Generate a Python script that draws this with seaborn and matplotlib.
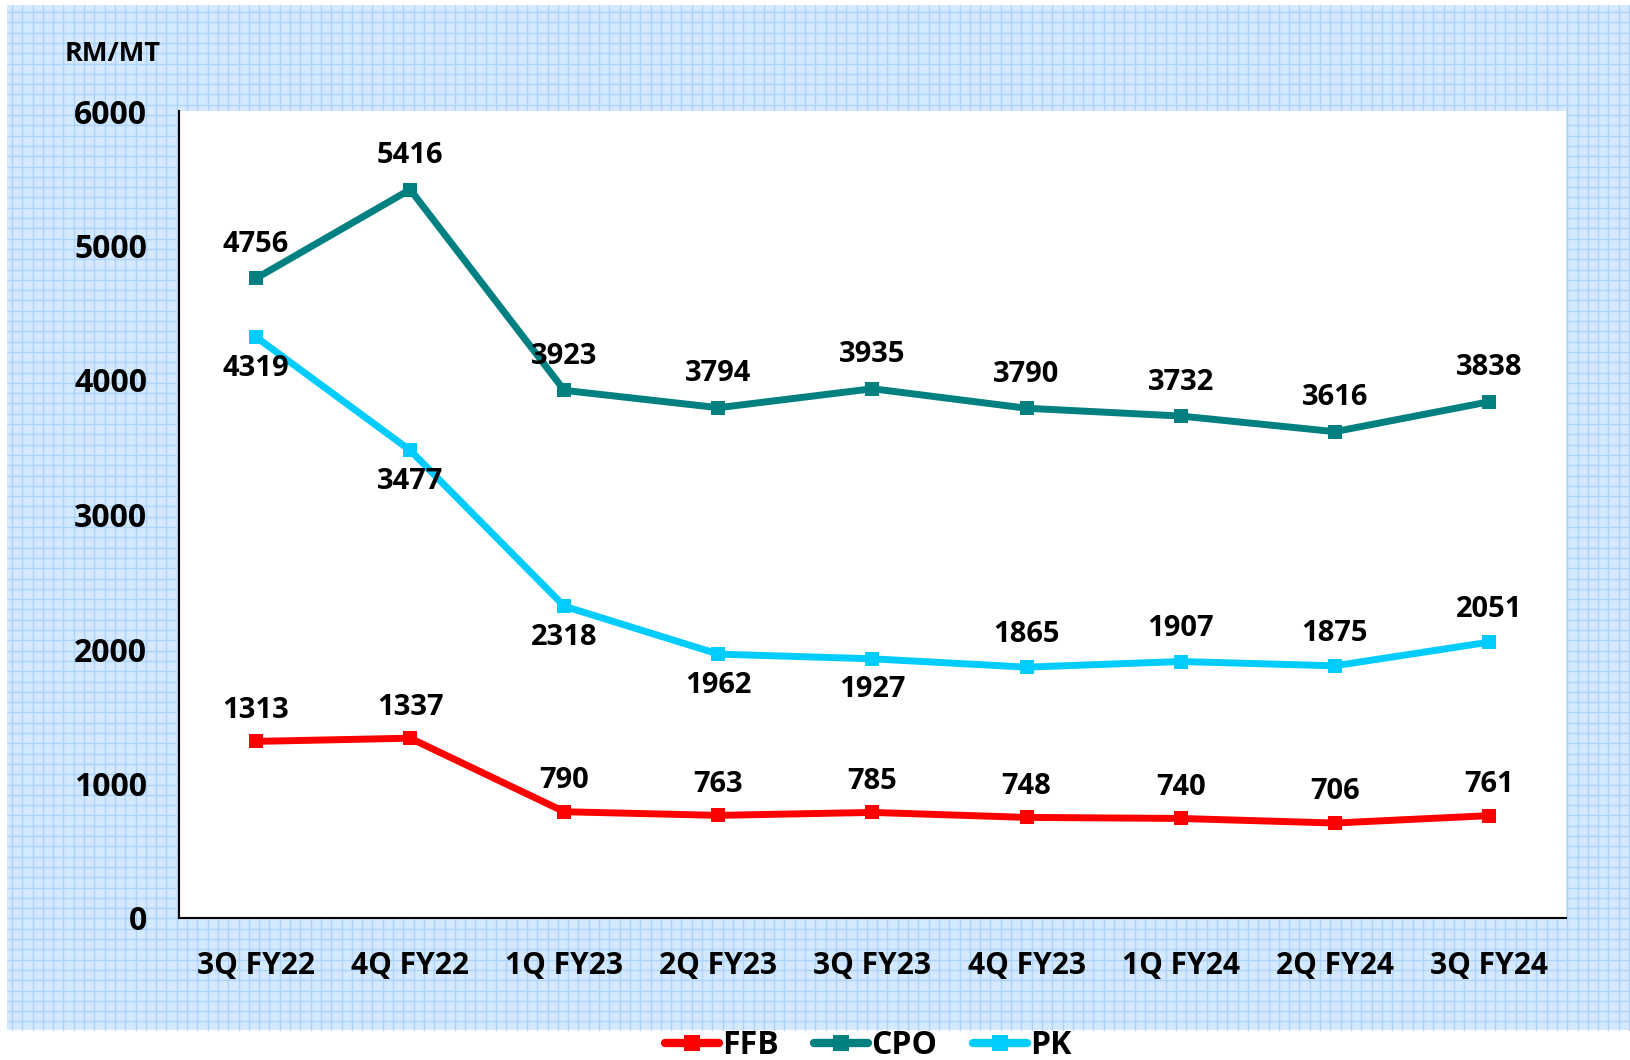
import numpy as np
import pandas as pd
import seaborn as sns
import matplotlib.pyplot as plt
from matplotlib.lines import Line2D
from matplotlib.patches import Rectangle

quarters = ["3Q FY22", "4Q FY22", "1Q FY23", "2Q FY23", "3Q FY23",
            "4Q FY23", "1Q FY24", "2Q FY24", "3Q FY24"]
ffb = [1313, 1337, 790, 763, 785, 748, 740, 706, 761]
cpo = [4756, 5416, 3923, 3794, 3935, 3790, 3732, 3616, 3838]
pk = [4319, 3477, 2318, 1962, 1927, 1865, 1907, 1875, 2051]
# label above (+1) or below (-1) the point
pk_side = [-1, -1, -1, -1, -1, 1, 1, 1, 1]

colors = {"FFB": "#ff0000", "CPO": "#008080", "PK": "#00ccff"}

df = pd.DataFrame({"quarter": quarters, "FFB": ffb, "CPO": cpo, "PK": pk})
long = df.melt(id_vars="quarter", var_name="series", value_name="price")
long["x"] = long["quarter"].map({q: i for i, q in enumerate(quarters)})

sns.set_style("white")
plt.rcParams["font.family"] = ["Open Sans", "DejaVu Sans"]
plt.rcParams["font.weight"] = "bold"
plt.rcParams["text.color"] = "black"
plt.rcParams["xtick.labelcolor"] = "black"
plt.rcParams["ytick.labelcolor"] = "black"

W, H = 1631, 1060
fig = plt.figure(figsize=(W / 100, H / 100), dpi=100)

# graph-paper background
bg = fig.add_axes([0, 0, 1, 1], zorder=0)
bg.set_xlim(0, W)
bg.set_ylim(H, 0)
bg.axis("off")
bx0, bx1, by0, by1 = 7, W, 5, 1030
bg.add_patch(Rectangle((bx0, by0), bx1 - bx0, by1 - by0, color="#d4e9ff", lw=0))
for gx in np.arange(bx0 + 5, bx1, 10.3):
    bg.plot([gx, gx], [by0, by1], color="#acd3fb", lw=1)
for gy in np.arange(by0 + 7, by1, 10.3):
    bg.plot([bx0, bx1], [gy, gy], color="#acd3fb", lw=1)

ax = fig.add_axes([179 / W, 1 - 918 / H, (1566 - 179) / W, (918 - 111) / H], zorder=1)
ax.set_facecolor("white")

sns.lineplot(data=long, x="x", y="price", hue="series", palette=colors,
             hue_order=["FFB", "CPO", "PK"], marker="s", markersize=10,
             markeredgewidth=0, linewidth=5, legend=False, ax=ax)

ax.set_xlim(-0.5, len(quarters) - 0.5)
ax.set_ylim(0, 6000)
ax.set_yticks(range(0, 6001, 1000))
ax.set_xticks(range(len(quarters)))
ax.set_xticklabels(quarters)
ax.set_xticks(np.arange(-0.5, len(quarters)), minor=True)
ax.tick_params(axis="x", which="major", length=0, pad=24, labelsize=21.5)
ax.tick_params(axis="x", which="minor", length=10, color="#808080", width=1)
ax.tick_params(axis="y", length=10, color="#808080", width=1, pad=13, labelsize=23)
ax.set_xlabel("")
ax.set_ylabel("")
for s in ["top", "right"]:
    ax.spines[s].set_visible(False)
for s in ["left", "bottom"]:
    ax.spines[s].set_color("black")
    ax.spines[s].set_linewidth(1.5)

lab = dict(fontsize=21, fontweight="bold", color="black", ha="center")
for i in range(len(quarters)):
    ax.annotate(str(cpo[i]), (i, cpo[i]), xytext=(0, 14), textcoords="offset points",
                va="bottom", **lab)
    ax.annotate(str(ffb[i]), (i, ffb[i]), xytext=(0, 12), textcoords="offset points",
                va="bottom", **lab)
    off = 13 if pk_side[i] > 0 else -12
    ax.annotate(str(pk[i]), (i, pk[i]), xytext=(0, off), textcoords="offset points",
                va="bottom" if pk_side[i] > 0 else "top", **lab)

fig.text(113 / W, 1 - 54 / H, "RM/MT", ha="center", va="center",
         fontsize=19.5, fontweight="bold", color="black")

handles = [Line2D([], [], color=colors[k], lw=6, marker="s", markersize=11,
                  markeredgewidth=0, solid_capstyle="round") for k in ["FFB", "CPO", "PK"]]
fig.legend(handles, ["FFB", "CPO", "PK"], loc="center", bbox_to_anchor=(868 / W, 1 - 1046 / H),
           ncol=3, frameon=False, fontsize=23, handlelength=1.7, handletextpad=0.1,
           columnspacing=1.1, borderpad=0)

fig.savefig("out.png", dpi=100)
